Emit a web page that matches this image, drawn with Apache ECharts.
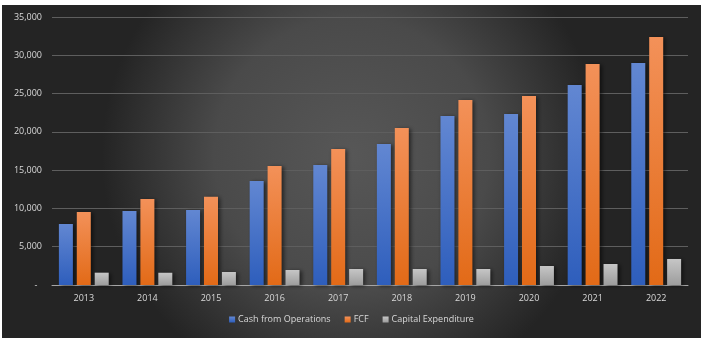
<!DOCTYPE html>
<html><head><meta charset="utf-8">
<script src="https://cdn.jsdelivr.net/npm/echarts@6/dist/echarts.min.js"></script>
<style>
html,body{margin:0;padding:0;background:#fff;width:705px;height:338px;overflow:hidden;}
#c{position:absolute;left:2px;top:5px;width:699px;height:333px;}
</style></head>
<body><div id="c"></div>
<script>
const years = ['2013','2014','2015','2016','2017','2018','2019','2020','2021','2022'];
const cashFromOps = [7970, 9660, 9800, 13580, 15670, 18410, 22070, 22330, 26120, 28990];
const fcf = [9530, 11230, 11530, 15540, 17760, 20500, 24160, 24680, 28860, 32390];
const capex = [1610, 1600, 1700, 1960, 2090, 2090, 2090, 2480, 2740, 3400];
const seriesNames = ['Cash from Operations', 'FCF', 'Capital Expenditure'];

function grad(top, bottom){
  return new echarts.graphic.LinearGradient(0,0,0,1,[{offset:0,color:top},{offset:1,color:bottom}]);
}
const txt = '#d9d9d9';
const font = '"Open Sans", "Liberation Sans", sans-serif';
const chart = echarts.init(document.getElementById('c'));
const shadow = {shadowBlur:4, shadowColor:'rgba(0,0,0,0.55)', shadowOffsetX:2, shadowOffsetY:1};
chart.setOption({
  backgroundColor: new echarts.graphic.RadialGradient(0.5,0.45,0.75,[{offset:0,color:'#575757'},{offset:0.55,color:'#4a4a4a'},{offset:1,color:'#242424'}]),
  animation:false,
  grid:{left:50, right:13, top:12, bottom:53},
  legend:{
    bottom:9, left:'center', itemWidth:6, itemHeight:6, itemGap:14,
    textStyle:{color:txt, fontSize:9, fontFamily:font, padding:[0,0,0,-2]},
    icon:'rect',
    data:seriesNames
  },
  xAxis:{
    type:'category', data:years,
    axisLine:{lineStyle:{color:'#a6a6a6', width:1}},
    axisTick:{show:false},
    axisLabel:{color:txt, fontSize:9, fontFamily:font, margin:9}
  },
  yAxis:{
    type:'value', min:0, max:35000, interval:5000,
    axisLine:{show:false}, axisTick:{show:false},
    splitLine:{lineStyle:{color:'#5e5e5e', width:1}},
    axisLabel:{color:txt, fontSize:9, fontFamily:font, margin:10,
      formatter:function(v){ return v===0 ? '-  ' : v.toLocaleString('en-US'); }}
  },
  series:[
    {name:seriesNames[0], type:'bar', data:cashFromOps, barWidth:14, barGap:'28%', barCategoryGap:'21%',
      itemStyle:Object.assign({color:grad('#6287d2','#2e5ebc')}, shadow)},
    {name:seriesNames[1], type:'bar', data:fcf, barWidth:14, barGap:'28%',
      itemStyle:Object.assign({color:grad('#f39159','#e26a17')}, shadow)},
    {name:seriesNames[2], type:'bar', data:capex, barWidth:14, barGap:'28%',
      itemStyle:Object.assign({color:grad('#c6c6c6','#9d9d9d')}, shadow)}
  ]
});
</script></body></html>
